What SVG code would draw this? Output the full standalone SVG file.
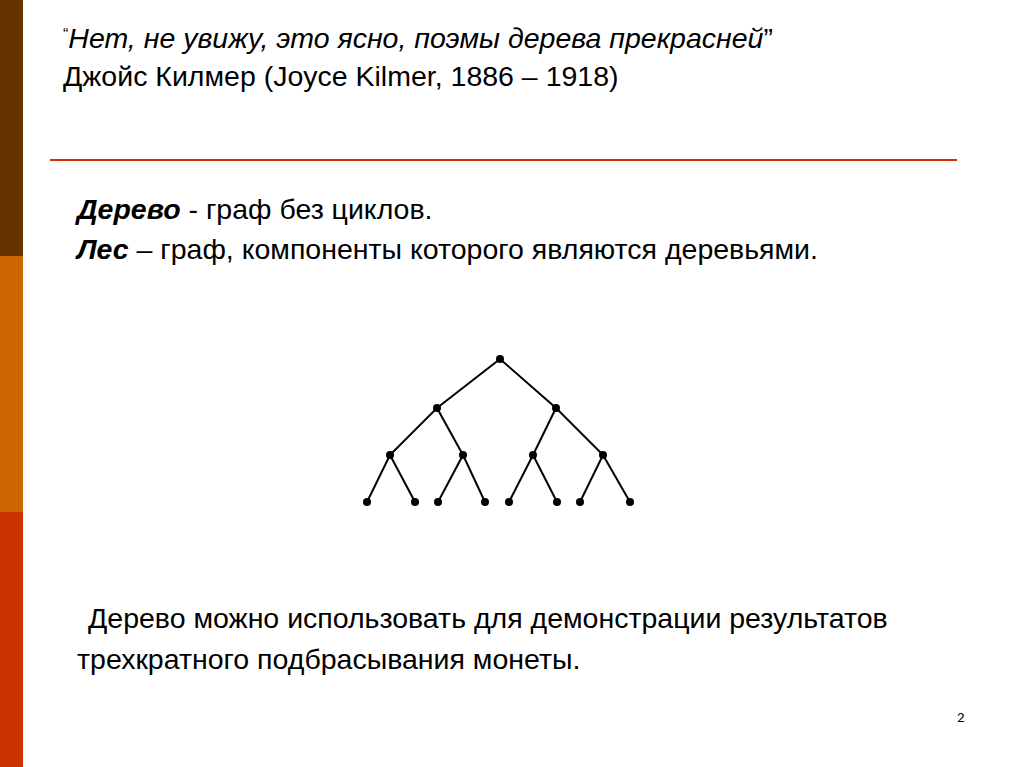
<svg xmlns="http://www.w3.org/2000/svg" width="1024" height="767" viewBox="0 0 1024 767">
<style>
.t{font-family:"Liberation Sans",Arial,sans-serif;font-size:28.5px;fill:#000}
.i{font-style:italic}
.b{font-weight:bold;font-style:italic}
.e{stroke:#000;stroke-width:2;fill:none}
.n{fill:#000}
</style>
<rect width="1024" height="767" fill="#fff"/>
<g id="sidebar">
<rect x="0" y="0" width="23" height="256" fill="#663300"/>
<rect x="0" y="256" width="23" height="256" fill="#cc6600"/>
<rect x="0" y="512" width="23" height="255" fill="#cc3300"/>
</g>
<g id="title">
<text class="t" x="63" y="48"><tspan font-size="16" dy="-8">“</tspan><tspan class="i" dy="8">Нет, не увижу, это ясно, поэмы дерева прекрасней</tspan><tspan>”</tspan></text>
<text class="t" x="63" y="86">Джойс Килмер (Joyce Kilmer, 1886 – 1918)</text>
</g>
<line x1="50" y1="160" x2="957" y2="160" stroke="#cc3300" stroke-width="2"/>
<g id="defs-text">
<text class="t" x="77" y="219"><tspan class="b">Дерево</tspan>  - граф без циклов.</text>
<text class="t" x="77" y="259"><tspan class="b">Лес</tspan> – граф, компоненты которого являются деревьями.</text>
</g>
<g id="connectors">
<line class="e" x1="500" y1="359" x2="437" y2="408"/>
<line class="e" x1="500" y1="359" x2="556" y2="408"/>
<line class="e" x1="437" y1="408" x2="390" y2="455"/>
<line class="e" x1="437" y1="408" x2="463" y2="455"/>
<line class="e" x1="556" y1="408" x2="533" y2="455"/>
<line class="e" x1="556" y1="408" x2="603" y2="455"/>
<line class="e" x1="390" y1="455" x2="367" y2="502"/>
<line class="e" x1="390" y1="455" x2="415" y2="502"/>
<line class="e" x1="463" y1="455" x2="438" y2="502"/>
<line class="e" x1="463" y1="455" x2="485" y2="502"/>
<line class="e" x1="533" y1="455" x2="509" y2="502"/>
<line class="e" x1="533" y1="455" x2="557" y2="502"/>
<line class="e" x1="603" y1="455" x2="580" y2="502"/>
<line class="e" x1="603" y1="455" x2="630" y2="502"/>
</g>
<g id="node-root"><circle class="n" cx="500" cy="359" r="4"/></g>
<g id="node-l"><circle class="n" cx="437" cy="408" r="4"/></g>
<g id="node-r"><circle class="n" cx="556" cy="408" r="4"/></g>
<g id="node-ll"><circle class="n" cx="390" cy="455" r="4"/></g>
<g id="node-lr"><circle class="n" cx="463" cy="455" r="4"/></g>
<g id="node-rl"><circle class="n" cx="533" cy="455" r="4"/></g>
<g id="node-rr"><circle class="n" cx="603" cy="455" r="4"/></g>
<g id="leaf-1"><circle class="n" cx="367" cy="502" r="4"/></g>
<g id="leaf-2"><circle class="n" cx="415" cy="502" r="4"/></g>
<g id="leaf-3"><circle class="n" cx="438" cy="502" r="4"/></g>
<g id="leaf-4"><circle class="n" cx="485" cy="502" r="4"/></g>
<g id="leaf-5"><circle class="n" cx="509" cy="502" r="4"/></g>
<g id="leaf-6"><circle class="n" cx="557" cy="502" r="4"/></g>
<g id="leaf-7"><circle class="n" cx="580" cy="502" r="4"/></g>
<g id="leaf-8"><circle class="n" cx="630" cy="502" r="4"/></g>
<g id="bottom-text">
<text class="t" x="88" y="628">Дерево можно использовать для демонстрации результатов</text>
<text class="t" x="77" y="669">трехкратного подбрасывания монеты.</text>
</g>
<text x="957" y="722" font-family="Carlito,'Liberation Sans',sans-serif" font-size="15" fill="#000">2</text>
</svg>
